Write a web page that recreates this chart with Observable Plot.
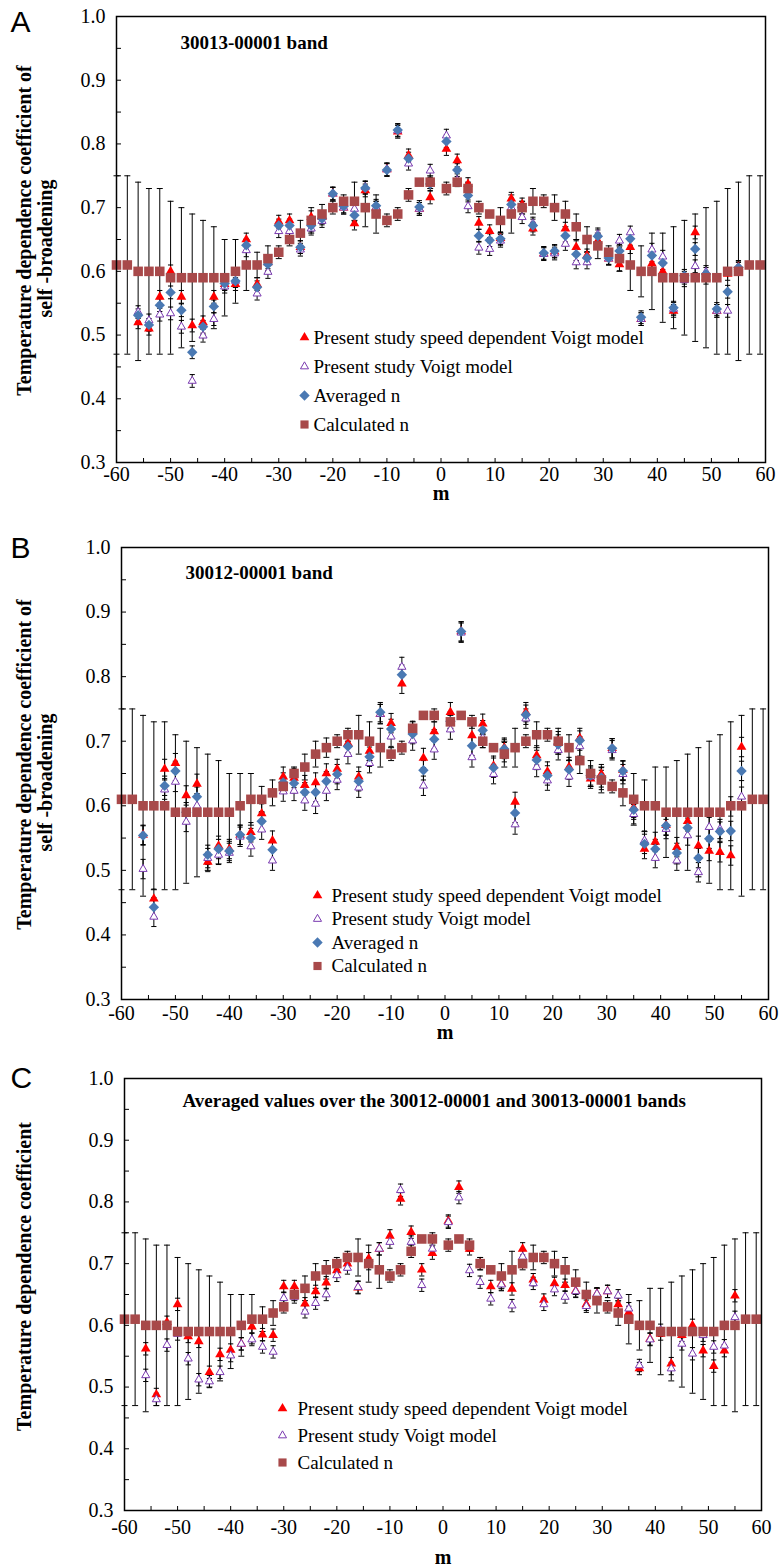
<!DOCTYPE html>
<html>
<head>
<meta charset="utf-8">
<script src="https://cdn.jsdelivr.net/npm/d3@7"></script>
<script src="https://cdn.jsdelivr.net/npm/@observablehq/plot@0.6"></script>
<style>
  body { margin: 0; background: #fff; }
  #fig { position: relative; width: 779px; height: 1567px; overflow: hidden; }
  .panel { position: absolute; left: 0; }
</style>
</head>
<body>
<div id="fig"></div>
<script>
// Rotational index m (P branch: even negative m; R branch: odd positive m)
const mCalc = [-60,-58,-56,-54,-52,-50,-48,-46,-44,-42,-40,-38,-36,-34,-32,-30,-28,-26,-24,-22,-20,-18,-16,-14,-12,-10,-8,-6,-4,-2,
  1,3,5,7,9,11,13,15,17,19,21,23,25,27,29,31,33,35,37,39,41,43,45,47,49,51,53,55,57,59];

// Calculated temperature exponent n and its uncertainty
const calcN = [0.61,0.61,0.60,0.60,0.60,0.59,0.59,0.59,0.59,0.59,0.59,0.60,0.61,0.61,0.62,0.63,0.65,0.66,0.68,0.69,0.70,0.71,0.71,0.70,0.69,0.68,0.69,0.72,0.74,0.74,
  0.73,0.74,0.73,0.70,0.69,0.68,0.69,0.70,0.71,0.71,0.70,0.69,0.67,0.65,0.64,0.63,0.62,0.61,0.60,0.60,0.59,0.59,0.59,0.59,0.59,0.59,0.60,0.60,0.61,0.61];
const calcErr = [0.14,0.14,0.14,0.13,0.13,0.12,0.11,0.10,0.09,0.08,0.06,0.05,0.04,0.02,0.02,0.01,0.01,0.02,0.02,0.015,0.01,0.01,0.03,0.03,0.03,0.01,0.01,0.01,0.005,0.01,
  0.01,0.005,0.01,0.01,0.005,0.02,0.03,0.01,0.02,0.01,0.02,0.02,0.02,0.02,0.02,0.01,0.02,0.04,0.04,0.06,0.07,0.08,0.09,0.10,0.11,0.12,0.13,0.14,0.14,0.14];

// Measured lines
const mExp = [-56,-54,-52,-50,-48,-46,-44,-42,-40,-38,-36,-34,-32,-30,-28,-26,-24,-22,-20,-18,-16,-14,-12,-10,-8,-6,-4,-2,
  1,3,5,7,9,11,13,15,17,19,21,23,25,27,29,31,33,35,37,39,41,43,45,47,49,51,53,55];

// 30013-00001 band
const sdvA = [0.52,0.51,0.56,0.60,0.56,0.515,0.52,0.56,0.58,0.58,0.65,0.58,0.614,0.678,0.68,0.638,0.685,0.685,0.722,0.70,0.675,0.727,0.70,0.76,0.819,0.782,0.698,0.716,
  0.792,0.774,0.737,0.676,0.663,0.652,0.714,0.705,0.667,0.628,0.631,0.667,0.638,0.625,0.648,0.620,0.611,0.638,0.525,0.612,0.60,0.538,0.59,0.661,0.59,0.538,0.596,0.607];
const voigtA = [0.536,0.523,0.532,0.534,0.513,0.428,0.499,0.525,0.576,0.585,0.633,0.565,0.599,0.663,0.663,0.634,0.667,0.679,0.722,0.70,0.698,0.732,0.70,0.76,0.821,0.769,0.698,0.758,
  0.813,0.743,0.702,0.637,0.635,0.648,0.70,0.685,0.675,0.627,0.628,0.643,0.614,0.614,0.658,0.620,0.648,0.661,0.525,0.634,0.623,0.541,0.586,0.608,0.599,0.538,0.538,0.604];
const avgA = [0.531,0.516,0.547,0.567,0.539,0.473,0.513,0.545,0.581,0.585,0.641,0.575,0.611,0.672,0.672,0.638,0.672,0.683,0.722,0.702,0.688,0.731,0.703,0.759,0.822,0.777,0.701,0.737,
  0.804,0.759,0.719,0.656,0.649,0.651,0.705,0.70,0.672,0.629,0.632,0.656,0.627,0.621,0.655,0.621,0.632,0.651,0.528,0.625,0.613,0.543,0.593,0.635,0.596,0.541,0.568,0.606];

// 30012-00001 band
const sdvB = [0.555,0.456,0.657,0.666,0.616,0.634,0.513,0.538,0.533,0.555,0.559,0.588,0.546,0.645,0.643,0.632,0.636,0.650,0.657,0.697,0.645,0.685,0.742,0.728,0.789,0.716,0.674,0.715,
  0.745,0.870,0.709,0.727,0.662,0.69,0.606,0.745,0.678,0.653,0.70,0.660,0.705,0.642,0.649,0.689,0.655,0.597,0.533,0.544,0.57,0.536,0.576,0.538,0.530,0.528,0.523,0.691];
const voigtB = [0.502,0.428,0.625,0.637,0.575,0.60,0.519,0.524,0.527,0.552,0.537,0.563,0.515,0.622,0.623,0.608,0.603,0.623,0.640,0.680,0.628,0.666,0.742,0.707,0.815,0.701,0.631,0.687,
  0.718,0.868,0.675,0.705,0.649,0.683,0.571,0.735,0.660,0.639,0.686,0.645,0.692,0.645,0.640,0.686,0.649,0.587,0.546,0.519,0.564,0.515,0.554,0.497,0.567,0.564,0.599,0.614];
const avgB = [0.554,0.443,0.631,0.654,0.59,0.614,0.524,0.533,0.53,0.555,0.55,0.576,0.532,0.636,0.635,0.621,0.621,0.638,0.649,0.692,0.638,0.676,0.745,0.719,0.803,0.711,0.655,0.703,
  0.731,0.870,0.693,0.717,0.659,0.688,0.589,0.741,0.671,0.647,0.695,0.656,0.701,0.647,0.644,0.689,0.654,0.594,0.541,0.533,0.569,0.527,0.566,0.519,0.549,0.560,0.561,0.654];

// Averaged over both bands
const sdvC = [0.562,0.488,0.605,0.634,0.582,0.574,0.524,0.553,0.56,0.57,0.598,0.585,0.584,0.663,0.663,0.635,0.655,0.669,0.689,0.70,0.661,0.708,0.724,0.745,0.805,0.751,0.690,0.717,
  0.769,0.824,0.724,0.70,0.663,0.667,0.659,0.724,0.674,0.641,0.668,0.665,0.656,0.634,0.651,0.655,0.634,0.621,0.530,0.578,0.586,0.538,0.584,0.600,0.559,0.534,0.559,0.648];
const voigtC = [0.519,0.480,0.568,0.586,0.546,0.512,0.509,0.524,0.551,0.570,0.577,0.565,0.557,0.644,0.646,0.622,0.636,0.650,0.681,0.693,0.662,0.70,0.724,0.735,0.819,0.735,0.665,0.724,
  0.767,0.807,0.689,0.670,0.643,0.666,0.632,0.711,0.668,0.634,0.658,0.646,0.655,0.631,0.651,0.655,0.648,0.627,0.535,0.577,0.592,0.530,0.570,0.554,0.584,0.565,0.567,0.613];

// Uncertainty of the measured values
const expErrA = 0.01;
const expErrB = 0.015;
const expErrC = 0.01;

// Axis ticks
const yTickLabels = [0.3,0.4,0.5,0.6,0.7,0.8,0.9,1.0];
const yTickMarks = [0.3,0.35,0.4,0.45,0.5,0.55,0.6,0.65,0.7,0.75,0.8,0.85,0.9,0.95,1.0];
const xTickLabels = [-60,-50,-40,-30,-20,-10,0,10,20,30,40,50,60];
const xTickMarks = [-60,-55,-50,-45,-40,-35,-30,-25,-20,-15,-10,-5,0,5,10,15,20,25,30,35,40,45,50,55,60];

// Series names
const nameSdv = "Present study speed dependent Voigt model";
const nameVoigt = "Present study Voigt model";
const nameAvg = "Averaged n";
const nameCalc = "Calculated n";

// Colours
const cSdv = "#ff0000";
const cVoigt = "#7a3ab0";
const cAvg = "#4a79b3";
const cCalc = "#a8494a";

// Small line glyphs: error-bar caps and inward axis ticks
const capSym = { draw(ctx, size) { const w = Math.sqrt(size / Math.PI); ctx.moveTo(-w, 0); ctx.lineTo(w, 0); } };
const tickRightSym = { draw(ctx, size) { const w = Math.sqrt(size / Math.PI); ctx.moveTo(0, 0); ctx.lineTo(w, 0); } };
const tickUpSym = { draw(ctx, size) { const w = Math.sqrt(size / Math.PI); ctx.moveTo(0, 0); ctx.lineTo(0, -w); } };

const serif = '"Liberation Serif", "Times New Roman", Times, serif';
const sans = '"Liberation Sans", Arial, Helvetica, sans-serif';

const styles = {
  sdv:   { symbol: "triangle", r: 3.6, fill: cSdv, stroke: "none", strokeWidth: 0 },
  voigt: { symbol: "triangle", r: 3.0, fill: "white", stroke: cVoigt, strokeWidth: 1 },
  avg:   { symbol: "diamond2", r: 4.7, fill: cAvg, stroke: "none", strokeWidth: 0 },
  calc:  { symbol: "square", r: 5.4, fill: cCalc, stroke: "none", strokeWidth: 0 }
};

function errorMarks(rows, capR) {
  return [
    Plot.ruleX(rows, { x: "m", y1: d => d.v - d.e, y2: d => d.v + d.e, stroke: "black", strokeWidth: 1 }),
    Plot.dot(rows, { x: "m", y: d => d.v + d.e, symbol: capSym, r: capR, fill: "none", stroke: "black", strokeWidth: 1 }),
    Plot.dot(rows, { x: "m", y: d => d.v - d.e, symbol: capSym, r: capR, fill: "none", stroke: "black", strokeWidth: 1 })
  ];
}

function pointMarks(rows, st) {
  return Plot.dot(rows, { x: "m", y: "v", symbol: st.symbol, r: st.r, fill: st.fill, stroke: st.stroke, strokeWidth: st.strokeWidth });
}

function makePanel(cfg) {
  const calcRows = mCalc.map((m, i) => ({ m, v: calcN[i], e: calcErr[i] }));
  const expRows = (vals, err) => mExp.map((m, i) => ({ m, v: vals[i], e: err }));
  const series = cfg.series.map(s => ({ ...s, rows: expRows(s.values, cfg.err) }));

  const marks = [];
  // inward ticks
  marks.push(Plot.dot(yTickMarks, { y: d => d, frameAnchor: "left", symbol: tickRightSym, r: 4.5, fill: "none", stroke: "black", strokeWidth: 1 }));
  marks.push(Plot.dot(xTickMarks, { x: d => d, frameAnchor: "bottom", symbol: tickUpSym, r: 4.5, fill: "none", stroke: "black", strokeWidth: 1 }));

  // error bars
  marks.push(...errorMarks(calcRows, 3));
  for (const s of series) marks.push(...errorMarks(s.rows, 2.6));

  // points
  for (const s of series) marks.push(pointMarks(s.rows, styles[s.key]));
  marks.push(pointMarks(calcRows, styles.calc));

  marks.push(Plot.frame({ stroke: "black", strokeWidth: 1.5 }));

  // axes
  marks.push(Plot.axisY({ ticks: yTickLabels, tickFormat: d => d.toFixed(1), tickSize: 0, tickPadding: cfg.yPad, label: null, fontSize: 20 }));
  marks.push(Plot.axisX({ ticks: xTickLabels, tickFormat: d => String(d), tickSize: 0, tickPadding: cfg.xPad, label: null, fontSize: 20 }));
  marks.push(Plot.text(["m"], { frameAnchor: "bottom", dy: cfg.mDy, lineAnchor: "middle", fontWeight: "bold", fontSize: 20 }));

  // y title
  cfg.yTitle.forEach(t => marks.push(Plot.text([t.text], { frameAnchor: "left", rotate: -90, dx: t.dx, dy: t.dy, textAnchor: "middle", lineAnchor: "middle", fontWeight: "bold", fontSize: 20 })));

  // panel title
  marks.push(Plot.text([cfg.title], { frameAnchor: "top-left", dx: cfg.titleDx, dy: cfg.titleDy, textAnchor: "start", lineAnchor: "middle", fontWeight: "bold", fontSize: 19 }));

  // panel letter
  marks.push(Plot.text([cfg.letter], { frameAnchor: "top-left", dx: cfg.letterDx, dy: cfg.letterDy, textAnchor: "start", lineAnchor: "middle", fontFamily: sans, fontSize: 30 }));

  // legend
  const legendItems = [...series.map(s => ({ key: s.key, name: s.name })), { key: "calc", name: nameCalc }];
  legendItems.forEach((it, i) => {
    const st = styles[it.key];
    const dy = cfg.legend.dy0 + i * cfg.legend.step;
    marks.push(Plot.dot([it.name], { frameAnchor: "top-left", dx: cfg.legend.mx, dy, symbol: st.symbol, r: it.key === "calc" ? 4.6 : st.r, fill: st.fill, stroke: st.stroke, strokeWidth: st.strokeWidth }));
    marks.push(Plot.text([it.name], { frameAnchor: "top-left", dx: cfg.legend.tx, dy, textAnchor: "start", lineAnchor: "middle", fontSize: 19 }));
  });

  const svg = Plot.plot({
    width: 779,
    height: cfg.height,
    marginTop: cfg.mt, marginBottom: cfg.mb, marginLeft: cfg.ml, marginRight: cfg.mr,
    x: { domain: [-60, 60] },
    y: { domain: [0.3, 1.0] },
    style: { fontFamily: serif, fontSize: "20px", color: "black", background: "white", overflow: "visible" },
    marks
  });
  const wrap = document.createElement("div");
  wrap.className = "panel";
  wrap.style.top = cfg.top + "px";
  wrap.appendChild(svg);
  document.getElementById("fig").appendChild(wrap);
}

makePanel({
  top: 0, height: 505, mt: 16, mb: 43, ml: 116, mr: 14,
  letter: "A", letterDx: -106, letterDy: 6,
  title: "30013-00001 band", titleDx: 64, titleDy: 26,
  yTitle: [
    { text: "Temperature dependence coefficient of", dx: -92, dy: -9 },
    { text: "self -broadening", dx: -71, dy: 9 }
  ],
  err: expErrA, xPad: 4, yPad: 11, mDy: 31,
  series: [
    { key: "sdv", name: nameSdv, values: sdvA },
    { key: "voigt", name: nameVoigt, values: voigtA },
    { key: "avg", name: nameAvg, values: avgA }
  ],
  legend: { mx: 188, tx: 197, dy0: 321, step: 29 }
});

makePanel({
  top: 505, height: 535, mt: 42, mb: 41, ml: 121, mr: 11,
  letter: "B", letterDx: -111, letterDy: 1,
  title: "30012-00001 band", titleDx: 64, titleDy: 25,
  yTitle: [
    { text: "Temperature dependence coefficient of", dx: -97, dy: -9 },
    { text: "self -broadening", dx: -76, dy: 9 }
  ],
  err: expErrB, xPad: 6, yPad: 11, mDy: 33,
  series: [
    { key: "sdv", name: nameSdv, values: sdvB },
    { key: "voigt", name: nameVoigt, values: voigtB },
    { key: "avg", name: nameAvg, values: avgB }
  ],
  legend: { mx: 196, tx: 210, dy0: 348, step: 23.5 }
});

makePanel({
  top: 1040, height: 527, mt: 38, mb: 57, ml: 124, mr: 18,
  letter: "C", letterDx: -114, letterDy: 0,
  title: "Averaged values over the 30012-00001 and 30013-00001 bands", titleDx: 58, titleDy: 22,
  yTitle: [
    { text: "Temperature dependence coefficient", dx: -100, dy: -18 }
  ],
  err: expErrC, xPad: 9, yPad: 11, mDy: 47,
  series: [
    { key: "sdv", name: nameSdv, values: sdvC },
    { key: "voigt", name: nameVoigt, values: voigtC }
  ],
  legend: { mx: 158, tx: 173, dy0: 330, step: 27 }
});
</script>
</body>
</html>
